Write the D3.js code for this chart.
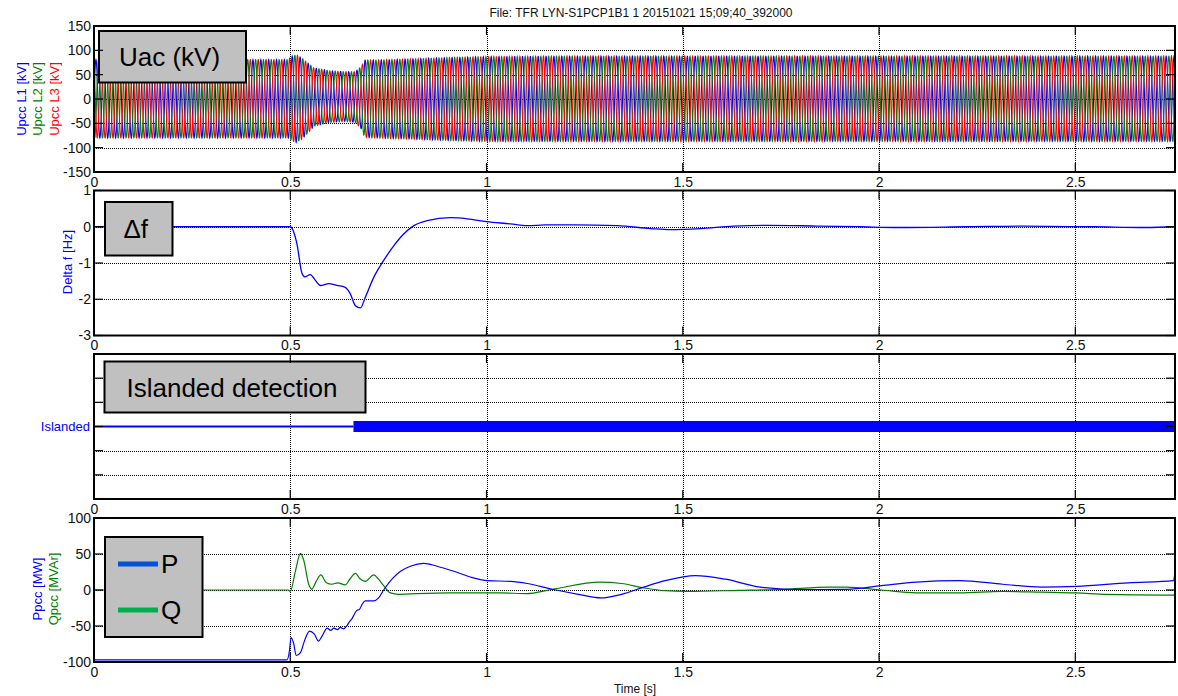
<!DOCTYPE html>
<html><head><meta charset="utf-8">
<script src="https://cdn.jsdelivr.net/npm/d3@7"></script>
<style>body{margin:0;background:#fff} svg{display:block;font-family:"Liberation Sans",Arial,sans-serif}</style>
</head><body><svg id="c" width="1178" height="696"></svg>
<script>
// ---------- data ----------
const title = "File: TFR LYN-S1PCP1B1 1 20151021 15;09;40_392000";
const xLabel = "Time [s]";
const timeDomain = [0, 2.754];
const timeTicks = [0, 0.5, 1, 1.5, 2, 2.5];
const uTicks = [-150, -100, -50, 0, 50, 100, 150];
const dfTicks = [-3, -2, -1, 0, 1];
const islTicks = [0, 1, 2, 3, 4, 5, 6];
const pqTicks = [-100, -50, 0, 50, 100];

// Uac envelope (kV), 50 Hz three-phase carrier
const uEnvT   = [0, 0.495, 0.505, 0.515, 0.53, 0.545, 0.56, 0.6, 0.64, 0.665, 0.68, 0.69, 0.72, 0.8, 0.9, 1.0, 1.2, 2.754];
const uEnvPos = [81, 81, 88, 91, 84, 74, 64, 58, 56, 56, 66, 80, 80, 82, 85, 87, 88, 88];
const uEnvNeg = [-80, -80, -86, -89, -82, -70, -56, -48, -46, -48, -60, -79, -80, -82, -85, -87, -87, -87];
const phaseNames = ["Upcc L1 [kV]", "Upcc L2 [kV]", "Upcc L3 [kV]"];
const phaseColors = ["#0000ff", "#008000", "#ff0000"];
const phaseShiftDeg = [0, -120, 120];
const nominalHz = 50;

// Delta f (Hz)
const dfT = [0, 0.49, 0.5, 0.505, 0.517, 0.530, 0.537, 0.551, 0.564, 0.577, 0.598, 0.619, 0.640, 0.653, 0.666, 0.679, 0.691, 0.713, 0.738, 0.764, 0.789, 0.815, 0.849, 0.908, 0.951, 1.0, 1.061, 1.104, 1.15, 1.222, 1.333, 1.418, 1.469, 1.546, 1.63, 1.716, 1.843, 1.95, 2.05, 2.22, 2.37, 2.55, 2.68, 2.754];
const dfV = [0, 0, 0, -0.05, -0.47, -1.29, -1.38, -1.32, -1.48, -1.62, -1.57, -1.62, -1.67, -1.85, -2.18, -2.24, -1.95, -1.39, -0.93, -0.52, -0.20, 0.03, 0.17, 0.25, 0.22, 0.14, 0.08, 0.03, 0.05, 0.05, 0.03, -0.05, -0.08, -0.05, 0.02, 0.04, 0.02, 0, -0.02, 0, 0.02, 0, -0.02, 0];

// Islanded detection (digital)
const islT = [0, 0.661];
const islState = [0, 1];
const islLevel = 3;

// Ppcc (MW)
const pT = [0, 0.492, 0.498, 0.502, 0.509, 0.515, 0.526, 0.536, 0.549, 0.561, 0.572, 0.581, 0.594, 0.603, 0.611, 0.620, 0.628, 0.636, 0.645, 0.651, 0.657, 0.663, 0.670, 0.676, 0.683, 0.691, 0.713, 0.725, 0.738, 0.759, 0.781, 0.806, 0.840, 0.874, 0.917, 0.959, 1.002, 1.061, 1.104, 1.168, 1.234, 1.292, 1.344, 1.400, 1.455, 1.532, 1.609, 1.697, 1.808, 1.918, 2.006, 2.095, 2.205, 2.315, 2.414, 2.503, 2.635, 2.750, 2.754];
const pV = [-97, -97, -84, -66, -75, -91, -87, -71, -57, -61, -71, -64, -53, -56, -53, -55, -52, -54, -49, -44, -40, -34, -28, -27, -20, -15, -15, -11, 0, 15, 26, 33, 37, 33, 26, 18, 13, 12, 9, 1, -6, -11, -6, 4, 13, 20, 15, 4, 0.5, 1, 6, 11, 13, 8, 4, 5, 10, 13, 26];
// Qpcc (MVAr)
const qT = [0, 0.495, 0.5, 0.513, 0.526, 0.534, 0.547, 0.555, 0.566, 0.578, 0.592, 0.606, 0.621, 0.640, 0.653, 0.666, 0.677, 0.691, 0.713, 0.725, 0.738, 0.755, 0.776, 0.823, 0.908, 0.993, 1.036, 1.102, 1.168, 1.289, 1.344, 1.400, 1.455, 1.510, 1.642, 1.753, 1.874, 1.918, 2.006, 2.095, 2.205, 2.315, 2.414, 2.503, 2.580, 2.754];
const qV = [0, 0, -2, 26, 51, 42, 8, 1, 12, 21, 10, 8, 10, 7, 16, 23, 16, 12, 21, 15, 6, -4, -6, -5, -4, -4, -4, -5, 1, 11, 9, 3, -1, -2, -0.5, 1, 4, 4, 0, -4, -4, -2, -3, -4, -6, -7];

const boxLabels = ["Uac (kV)", "\u0394f", "Islanded detection", ""];
const legendNames = ["P", "Q"];
const legendColors = ["#0052d9", "#00b050"];

// ---------- layout ----------
const svg = d3.select("#c");
const X0 = 94, X1 = 1175;
const x = d3.scaleLinear().domain(timeDomain).range([X0, X1]);
const panels = [
  {top: 26, bot: 172, dom: [-150, 150], ticks: uTicks},
  {top: 190.5, bot: 335.5, dom: [-3, 1], ticks: dfTicks},
  {top: 354, bot: 499, dom: [0, 6], ticks: islTicks, noLabels: true},
  {top: 518, bot: 662, dom: [-100, 100], ticks: pqTicks}
];
panels.forEach((p, i) => { p.y = d3.scaleLinear().domain(p.dom).range([p.bot, p.top]); p.i = i; });

svg.append("text").attr("x", 641).attr("y", 17).attr("text-anchor", "middle")
  .attr("font-size", 12).attr("fill", "#111").text(title);

const defs = svg.append("defs");
panels.forEach(p => {
  defs.append("clipPath").attr("id", "clip" + p.i).append("rect")
    .attr("x", X0).attr("y", p.top).attr("width", X1 - X0).attr("height", p.bot - p.top);
});

function drawGrid(p) {
  const g = svg.append("g").attr("shape-rendering", "crispEdges");
  g.selectAll(".gy").data(p.ticks.filter(v => v > p.dom[0] && v < p.dom[1] && !(p.i === 2 && v === islLevel)))
    .join("line").attr("x1", X0).attr("x2", X1)
    .attr("y1", d => Math.round(p.y(d)) + 0.5).attr("y2", d => Math.round(p.y(d)) + 0.5)
    .attr("stroke", "#000").attr("stroke-width", 1).attr("stroke-dasharray", "1,1");
  g.selectAll(".gx").data(timeTicks.filter(v => v > 0))
    .join("line").attr("y1", p.top).attr("y2", p.bot)
    .attr("x1", d => Math.round(x(d)) + 0.5).attr("x2", d => Math.round(x(d)) + 0.5)
    .attr("stroke", "#000").attr("stroke-width", 1).attr("stroke-dasharray", "1,1");
}

function drawFrame(p) {
  const g = svg.append("g");
  const tl = 9;
  p.ticks.forEach(v => {
    const yy = p.y(v);
    g.append("line").attr("x1", X0).attr("x2", X0 + tl).attr("y1", yy).attr("y2", yy).attr("stroke", "#000").attr("stroke-width", 1.2);
    g.append("line").attr("x1", X1 - tl).attr("x2", X1).attr("y1", yy).attr("y2", yy).attr("stroke", "#000").attr("stroke-width", 1.2);
  });
  timeTicks.forEach(v => {
    const xx = x(v);
    g.append("line").attr("x1", xx).attr("x2", xx).attr("y1", p.top).attr("y2", p.top + tl).attr("stroke", "#000").attr("stroke-width", 1.2);
    g.append("line").attr("x1", xx).attr("x2", xx).attr("y1", p.bot - tl).attr("y2", p.bot).attr("stroke", "#000").attr("stroke-width", 1.2);
  });
  g.append("rect").attr("x", X0).attr("y", p.top).attr("width", X1 - X0).attr("height", p.bot - p.top)
    .attr("fill", "none").attr("stroke", "#000").attr("stroke-width", 2);
  const ax = d3.axisBottom(x).tickValues(timeTicks).tickSize(0).tickPadding(4).tickFormat(d3.format("~g"));
  const axg = svg.append("g").attr("transform", `translate(0,${p.bot + 1})`).call(ax);
  axg.select(".domain").remove();
  axg.selectAll("text").attr("font-size", 14).attr("fill", "#111").attr("font-family", "Liberation Sans, Arial, sans-serif");
  if (!p.noLabels) {
    const ay = d3.axisLeft(p.y).tickValues(p.ticks).tickSize(0).tickPadding(3).tickFormat(d => String(d));
    const ayg = svg.append("g").attr("transform", `translate(${X0},0)`).call(ay);
    ayg.select(".domain").remove();
    ayg.selectAll("text").attr("font-size", 14).attr("fill", "#111").attr("font-family", "Liberation Sans, Arial, sans-serif");
  }
}

function box(x0, y0, w, h, label) {
  svg.append("rect").attr("x", x0).attr("y", y0).attr("width", w).attr("height", h)
    .attr("fill", "#c0c0c0").attr("stroke", "#000").attr("stroke-width", 2);
  if (label) svg.append("text").attr("x", x0 + w / 2 - 3).attr("y", y0 + h / 2 + 9.5)
    .attr("text-anchor", "middle").attr("font-size", 26).attr("fill", "#000").text(label);
}

function ylabel(cx, cy, text, color) {
  svg.append("text").attr("transform", `translate(${cx},${cy}) rotate(-90)`)
    .attr("text-anchor", "middle").attr("dominant-baseline", "central")
    .attr("font-size", 13).attr("fill", color).text(text);
}

// ---------- Panel 1: Uac ----------
{
  const p = panels[0];
  drawGrid(p);
  const envP = d3.scaleLinear().domain(uEnvT).range(uEnvPos);
  const envN = d3.scaleLinear().domain(uEnvT).range(uEnvNeg);
  const dfS = d3.scaleLinear().domain(dfT).range(dfV);
  const fs = 2000, dt = 1 / fs;
  const n = Math.round(timeDomain[1] * fs);
  const theta = [0];
  for (let k = 1; k <= n; k++) theta.push(theta[k - 1] + 2 * Math.PI * (nominalHz + dfS(k * dt)) * dt);
  const g = svg.append("g").attr("clip-path", "url(#clip0)");
  phaseShiftDeg.forEach((ph, j) => {
    const pts = [];
    for (let k = 0; k <= n; k++) {
      const t = k * dt;
      const s = Math.sin(theta[k] + ph * Math.PI / 180);
      pts.push([t, s >= 0 ? s * envP(t) : -s * envN(t)]);
    }
    g.append("path").datum(pts).attr("fill", "none").attr("stroke", phaseColors[j]).attr("stroke-width", 1.1)
      .attr("d", d3.line().x(d => x(d[0])).y(d => p.y(d[1])));
  });
  box(99, 31, 147, 51.5, boxLabels[0]);
  drawFrame(p);
  ylabel(21, 99, phaseNames[0], phaseColors[0]);
  ylabel(37.5, 99, phaseNames[1], phaseColors[1]);
  ylabel(54, 99, phaseNames[2], phaseColors[2]);
}

// ---------- Panel 2: Delta f ----------
{
  const p = panels[1];
  drawGrid(p);
  svg.append("g").attr("clip-path", "url(#clip1)").append("path")
    .datum(dfT.map((t, i) => [t, dfV[i]]))
    .attr("fill", "none").attr("stroke", "#0000ff").attr("stroke-width", 1.3)
    .attr("d", d3.line().curve(d3.curveMonotoneX).x(d => x(d[0])).y(d => p.y(d[1])));
  box(105, 202, 67.5, 53.5, boxLabels[1]);
  drawFrame(p);
  ylabel(67, 262, "Delta f [Hz]", "#0000ff");
}

// ---------- Panel 3: Islanded ----------
{
  const p = panels[2];
  drawGrid(p);
  const g = svg.append("g").attr("clip-path", "url(#clip2)");
  const yy = p.y(islLevel);
  islT.forEach((t, i) => {
    const tEnd = i + 1 < islT.length ? islT[i + 1] : timeDomain[1];
    if (islState[i] === 0) {
      g.append("line").attr("x1", x(t)).attr("x2", x(tEnd)).attr("y1", yy).attr("y2", yy)
        .attr("stroke", "#0000ff").attr("stroke-width", 2);
    } else {
      g.append("rect").attr("x", x(t)).attr("width", x(tEnd) - x(t)).attr("y", yy - 5.5).attr("height", 11)
        .attr("fill", "#0000ff");
    }
  });
  box(104.5, 361.5, 261, 51, boxLabels[2]);
  drawFrame(p);
  svg.append("text").attr("x", 90).attr("y", yy).attr("text-anchor", "end").attr("dominant-baseline", "central")
    .attr("font-size", 13).attr("fill", "#0000ff").text("Islanded");
}

// ---------- Panel 4: P / Q ----------
{
  const p = panels[3];
  drawGrid(p);
  const g = svg.append("g").attr("clip-path", "url(#clip3)");
  const ln = d3.line().curve(d3.curveMonotoneX).x(d => x(d[0])).y(d => p.y(d[1]));
  g.append("path").datum(qT.map((t, i) => [t, qV[i]])).attr("fill", "none")
    .attr("stroke", "#008000").attr("stroke-width", 1.2).attr("d", ln);
  g.append("path").datum(pT.map((t, i) => [t, pV[i]])).attr("fill", "none")
    .attr("stroke", "#0000ff").attr("stroke-width", 1.2).attr("d", ln);
  box(105, 537, 97.5, 100, "");
  const ly = [564, 610];
  legendNames.forEach((nm, i) => {
    svg.append("line").attr("x1", 118).attr("x2", 158).attr("y1", ly[i]).attr("y2", ly[i])
      .attr("stroke", legendColors[i]).attr("stroke-width", 5);
    svg.append("text").attr("x", 161).attr("y", ly[i] + 9).attr("font-size", 26).attr("fill", "#000").text(nm);
  });
  drawFrame(p);
  ylabel(37.5, 589, "Ppcc [MW]", "#0000ff");
  ylabel(53.5, 589, "Qpcc [MVAr]", "#008000");
}

svg.append("text").attr("x", 635).attr("y", 693).attr("text-anchor", "middle")
  .attr("font-size", 12).attr("fill", "#111").text(xLabel);
</script></body></html>
